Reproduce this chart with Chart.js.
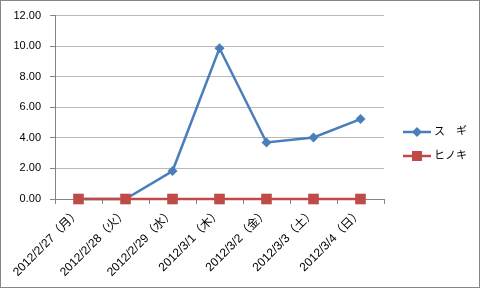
<!DOCTYPE html>
<html>
<head>
<meta charset="utf-8">
<script src="https://cdn.jsdelivr.net/npm/chart.js@4/dist/chart.umd.min.js"></script>
<style>
  html, body { margin: 0; padding: 0; background: #fff; }
  #wrap { width: 480px; height: 288px; }
</style>
</head>
<body>
<div id="wrap"><canvas id="chart" width="480" height="288"></canvas></div>
<script>
const labels = ["2012/2/27（月）", "2012/2/28（火）", "2012/2/29（水）", "2012/3/1（木）", "2012/3/2（金）", "2012/3/3（土）", "2012/3/4（日）"];
const seriesNames = ["ス　ギ", "ヒノキ"];
const sugi = [0, 0, 1.83, 9.86, 3.70, 4.03, 5.23];
const hinoki = [0, 0, 0, 0, 0, 0, 0];
const yTicks = [0, 2, 4, 6, 8, 10, 12];

const blue = "#4a7ebb";
const red = "#be4b48";
const fontFamily = "'Liberation Sans', 'Noto Sans CJK JP', sans-serif";

// legend on the right, line + marker like Excel
const sideLegend = {
  id: "sideLegend",
  afterDraw(chart) {
    const ctx = chart.ctx;
    const items = [
      { name: seriesNames[0], color: blue, style: "diamond", y: 132 },
      { name: seriesNames[1], color: red, style: "square", y: 156 }
    ];
    ctx.save();
    items.forEach(it => {
      ctx.strokeStyle = it.color;
      ctx.lineWidth = 2.5;
      ctx.beginPath();
      ctx.moveTo(403, it.y);
      ctx.lineTo(431, it.y);
      ctx.stroke();
      ctx.fillStyle = it.color;
      ctx.beginPath();
      if (it.style === "diamond") {
        ctx.moveTo(417, it.y - 5);
        ctx.lineTo(422, it.y);
        ctx.lineTo(417, it.y + 5);
        ctx.lineTo(412, it.y);
      } else {
        ctx.rect(412, it.y - 5, 10, 10);
      }
      ctx.closePath();
      ctx.fill();
      ctx.fillStyle = "#000";
      ctx.font = "11px " + fontFamily;
      ctx.textBaseline = "middle";
      ctx.fillText(it.name, 434, it.y);
    });
    // chart area border
    ctx.strokeStyle = "#868686";
    ctx.lineWidth = 1;
    ctx.strokeRect(0.5, 0.5, chart.width - 1, chart.height - 1);
    ctx.restore();
  }
};

new Chart(document.getElementById("chart"), {
  type: "line",
  data: {
    labels: labels,
    datasets: [
      {
        label: seriesNames[0],
        data: sugi,
        borderColor: blue,
        backgroundColor: blue,
        borderWidth: 2.5,
        pointStyle: "rectRot",
        pointRadius: 5,
        pointBorderWidth: 0,
        tension: 0,
        clip: false,
        order: 1
      },
      {
        label: seriesNames[1],
        data: hinoki,
        borderColor: red,
        backgroundColor: red,
        borderWidth: 2.5,
        pointStyle: "rect",
        pointRadius: 7.5,
        pointBorderWidth: 0,
        tension: 0,
        clip: false,
        order: 0
      }
    ]
  },
  options: {
    responsive: false,
    animation: false,
    layout: { padding: { top: 15, right: 96, left: 0, bottom: 0 } },
    plugins: {
      legend: { display: false },
      tooltip: { enabled: false }
    },
    scales: {
      x: {
        offset: true,
        grid: { offset: true, drawOnChartArea: false, drawTicks: true, tickLength: 5, color: "#868686" },
        border: { color: "#868686" },
        ticks: {
          maxRotation: 45,
          minRotation: 45,
          autoSkip: false,
          padding: 2,
          color: "#000",
          font: { size: 12, family: fontFamily }
        },
        afterFit(scale) { scale.height = 89; }
      },
      y: {
        min: 0,
        max: 12,
        afterBuildTicks(scale) { scale.ticks = yTicks.map(v => ({ value: v })); },
        grid: { color: "#b9b9b9", tickLength: 5, tickColor: "#868686" },
        border: { color: "#868686" },
        ticks: {
          padding: 9,
          color: "#000",
          font: { size: 11, family: fontFamily },
          callback: v => Number(v).toFixed(2)
        },
        afterFit(scale) { scale.width = 55; }
      }
    }
  },
  plugins: [sideLegend]
});
</script>
</body>
</html>
